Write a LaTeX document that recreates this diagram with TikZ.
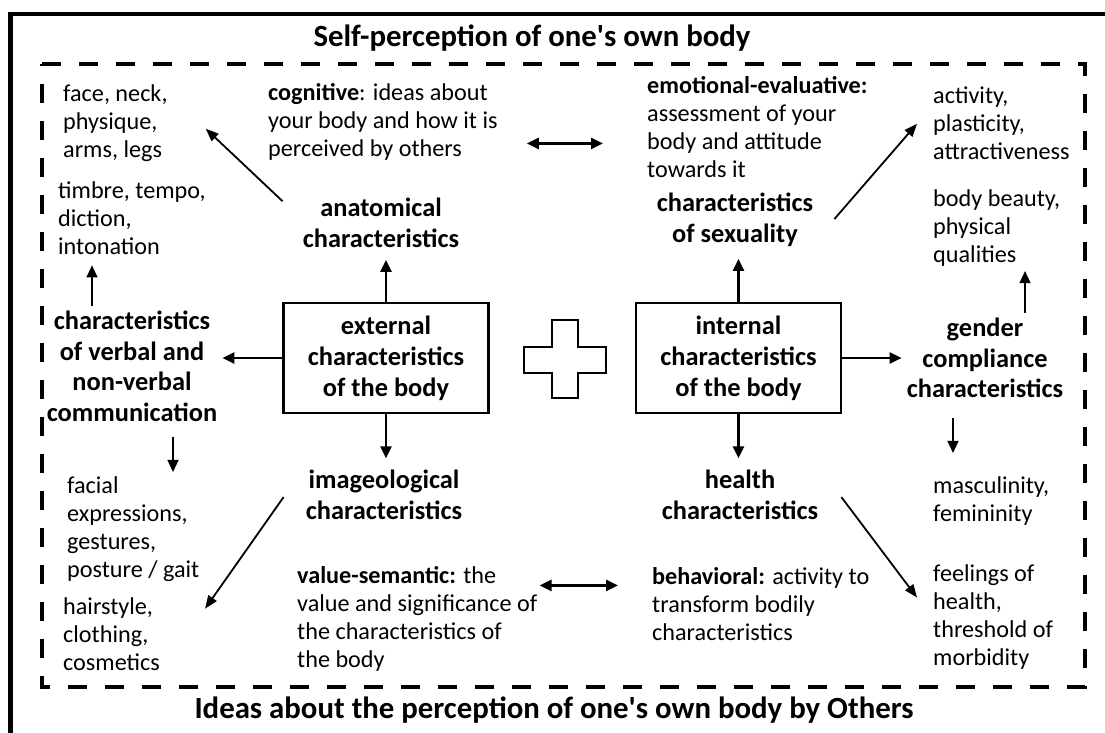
\documentclass[tikz,border=0pt]{standalone}
\usepackage{fontspec}
\setmainfont{Carlito}
\usetikzlibrary{arrows.meta}

\tikzset{
  plain/.style={font=\fontsize{24.2}{28}\selectfont, align=left, anchor=base west, inner sep=0pt},
  heading/.style={font=\bfseries\fontsize{26.4}{30.5}\selectfont, align=center, anchor=base, inner xsep=5pt, inner ysep=12pt},
  bodybox/.style={draw, line width=2.8pt, minimum width=205pt, minimum height=110pt, align=center, font=\bfseries\fontsize{26.4}{31}\selectfont},
  bigtitle/.style={font=\bfseries\fontsize{30.8}{36}\selectfont, anchor=base, inner sep=0pt},
  boxarrow/.style={-{Triangle[length=12pt,width=11pt]}, line width=2.6pt},
  smallarrow/.style={-{Triangle[length=12pt,width=11pt]}, line width=1.4pt},
  slantarrow/.style={-{Triangle[length=13pt,width=10pt]}, line width=1.8pt},
  botharrow/.style={{Triangle[length=12pt,width=11pt]}-{Triangle[length=12pt,width=11pt]}, line width=2.6pt}
}

\begin{document}
\begin{tikzpicture}[x=1pt,y=1pt]
\useasboundingbox (0,0) rectangle (1105,733);
\draw[line width=4.5pt] (10.5,0) -- (10.5,719) -- (1105,719);
\draw[line width=4pt, dash pattern=on 19pt off 18pt] (42,669) -- (1085,669) -- (1085,46) -- (42,46) -- cycle;

\node[bigtitle] (selftitle) at (532,686) {Self-perception of one\textquotesingle s own body};
\node[bigtitle] (otherstitle) at (554,14) {Ideas about the perception of one\textquotesingle s own body by Others};

\node[bodybox] (ext) at (386,375) {external\\characteristics\\of the body};
\node[bodybox] (int) at (738.5,375) {internal\\characteristics\\of the body};
\draw[line width=2.8pt] (552,413) -- (578,413) -- (578,386) -- (606,386) -- (606,360) -- (578,360) -- (578,335) -- (552,335) -- (552,360) -- (524,360) -- (524,386) -- (552,386) -- cycle;

\node[heading] (anat) at (381,485.5) {anatomical\\characteristics};
\node[heading] (sexual) at (735,490.5) {characteristics\\of sexuality};
\node[heading] (verbal) at (132,311.5) {characteristics\\of verbal and\\non-verbal\\communication};
\node[heading] (gender) at (985,335) {gender\\compliance\\characteristics};
\node[heading] (image) at (384,213.5) {imageological\\characteristics};
\node[heading] (health) at (740,213.5) {health\\characteristics};

\node[plain] (face) at (63,575) {face, neck,\\physique,\\arms, legs};
\node[plain] (timbre) at (58,478) {timbre, tempo,\\diction,\\intonation};
\node[plain] (facial) at (67,155) {facial\\expressions,\\gestures,\\posture / gait};
\node[plain] (hair) at (63,62) {hairstyle,\\clothing,\\cosmetics};
\node[plain] (cogn) at (268,576) {\textbf{cognitive}: ideas about\\your body and how it is\\perceived by others};
\node[plain] (emot) at (647,555) {\textbf{emotional-evaluative:}\\assessment of your\\body and attitude\\towards it};
\node[plain] (activ) at (933,573) {activity,\\plasticity,\\attractiveness};
\node[plain] (beauty) at (933,470) {body beauty,\\physical\\qualities};
\node[plain] (masc) at (933,211) {masculinity,\\femininity};
\node[plain] (feel) at (933,67) {feelings of\\health,\\threshold of\\morbidity};
\node[plain] (value) at (297,65) {\textbf{value-semantic:} the\\value and significance of\\the characteristics of\\the body};
\node[plain] (behav) at (652,92) {\textbf{behavioral:} activity to\\transform bodily\\characteristics};

\draw[boxarrow] (ext.north) -- (ext.north |- anat.south);
\draw[boxarrow] (ext.south) -- (ext.south |- image.north);
\draw[boxarrow] (ext.west) -- (ext.west -| verbal.east);
\draw[boxarrow] (int.north) -- (int.north |- sexual.south);
\draw[boxarrow] (int.south) -- (int.south |- health.north);
\draw[boxarrow] (int.east) -- (int.east -| gender.west);

\draw[smallarrow, shorten <=-7pt, shorten >=10pt] ([xshift=-40pt]verbal.north) -- ([xshift=-40pt]verbal.north |- timbre.south);
\draw[smallarrow, shorten <=3pt, shorten >=5pt] ([xshift=41pt]verbal.south) -- ([xshift=41pt]verbal.south |- facial.north);
\draw[smallarrow, shorten <=-7pt, shorten >=4pt] ([xshift=40pt]gender.north) -- ([xshift=40pt]gender.north |- beauty.south);
\draw[smallarrow, shorten <=8pt, shorten >=24pt] ([xshift=-32pt]gender.south) -- ([xshift=-32pt]gender.south |- masc.north);

\draw[slantarrow] ([shift={(-15pt,-15pt)}]anat.north west) -- ([shift={(38pt,-5pt)}]face.east);
\draw[slantarrow] ([shift={(-17pt,-2pt)}]image.west) -- ([shift={(45pt,26pt)}]hair.east);
\draw[slantarrow] ([shift={(16pt,1pt)}]sexual.east) -- ([shift={(-16pt,0pt)}]activ.west);
\draw[slantarrow] ([shift={(18pt,-2pt)}]health.east) -- ([shift={(-16pt,20pt)}]feel.west);

\draw[botharrow] ([shift={(29pt,-21pt)}]cogn.east) coordinate (cogend) -- ([xshift=-44pt]emot.west |- cogend);
\draw[botharrow] ([shift={(2pt,34pt)}]value.east) coordinate (valend) -- ([xshift=-34pt]behav.west |- valend);
\end{tikzpicture}
\end{document}
